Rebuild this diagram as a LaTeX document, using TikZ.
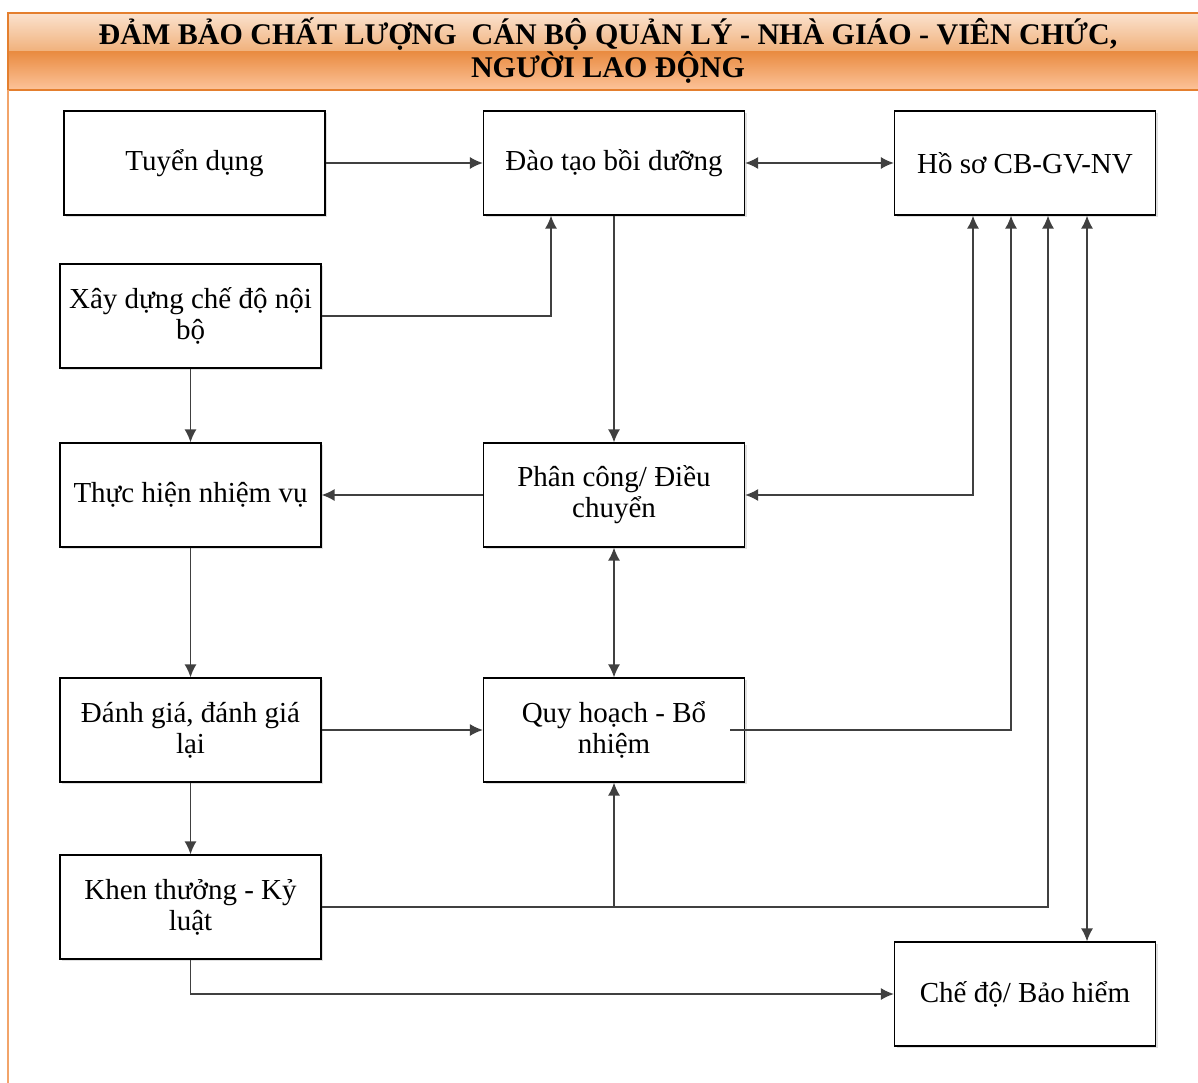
\documentclass[tikz,border=0pt]{standalone}
\usepackage{fontspec}
\setmainfont{Liberation Serif}
\usetikzlibrary{arrows.meta,positioning,calc,shadows}
\definecolor{Wire}{HTML}{404040}
\definecolor{Frame}{HTML}{E47F2E}
\definecolor{PeachTop}{HTML}{FBE2CE}
\definecolor{PeachMid}{HTML}{F0B07A}
\definecolor{OrangeMid}{HTML}{E98C42}
\definecolor{PeachLow}{HTML}{FCC39A}
\definecolor{SideLine}{HTML}{F2A46A}
\tikzset{
 box/.style={draw=black, line width=1.1pt, fill=white, minimum width=261pt, minimum height=104pt, align=center, inner sep=2pt, font=\fontsize{29}{31}\selectfont, drop shadow={shadow xshift=2pt, shadow yshift=-2pt, fill=black!20, opacity=0.6}},
 title/.style={align=center, inner sep=0pt, font=\fontsize{30}{30}\selectfont\bfseries},
 arrow/.style={->, line width=1.7pt, draw=Wire},
 twoway/.style={<->, line width=1.7pt, draw=Wire},
 wire/.style={line width=1.7pt, draw=Wire}
}

\begin{document}
\begin{tikzpicture}[x=1pt, y=-1pt, >={Latex[length=13pt,width=12pt]}]
\useasboundingbox (0,0) rectangle (1198,1083);
% header band
\shade[top color=PeachTop, bottom color=PeachMid] (8,13) rectangle (1198,52);
\shade[top color=OrangeMid, bottom color=PeachLow] (8,52) rectangle (1198,90);
\draw[Frame, line width=1.2pt] (1198,13) -- (8,13) -- (8,90) -- (1198,90);
\draw[SideLine, line width=1.2pt] (8,90) -- (8,1083);
\node[title] (head) at (608,51) {ĐẢM BẢO CHẤT LƯỢNG\ \ CÁN BỘ QUẢN LÝ - NHÀ GIÁO - VIÊN CHỨC,\\NGƯỜI LAO ĐỘNG};

% boxes
\node[box] (tuyendung) at (194.5,163) {Tuyển dụng};
\node[box] (daotao) at (614,163) {Đào tạo bồi dưỡng};
\node[box] (hoso) at (1025,163) {Hồ sơ CB-GV-NV};
\node[box] (xaydung) at (190.5,316) {Xây dựng chế độ nội\\bộ};
\node[box] (thuchien) at (190.5,495) {Thực hiện nhiệm vụ};
\node[box] (phancong) at (614,495) {Phân công/ Điều\\chuyển};
\node[box] (danhgia) at (190.5,730) {Đánh giá, đánh giá\\lại};
\node[box] (quyhoach) at (614,730) {Quy hoạch - Bổ\\nhiệm};
\node[box] (khenthuong) at (190.5,907) {Khen thưởng - Kỷ\\luật};
\node[box] (chedo) at (1025,994) {Chế độ/ Bảo hiểm};

% connectors
\draw[arrow] (tuyendung) -- (daotao);
\draw[twoway] (daotao) -- (hoso);
\draw[arrow] (xaydung.east) -| ([xshift=-63pt]daotao.south);
\draw[arrow] (xaydung) -- (thuchien);
\draw[arrow] (daotao) -- (phancong);
\draw[arrow] (phancong) -- (thuchien);
\draw[twoway] (phancong.east) -| ([xshift=-52pt]hoso.south);
\draw[twoway] (phancong) -- (quyhoach);
\draw[arrow] (thuchien) -- (danhgia);
\draw[arrow] (danhgia) -- (quyhoach);
\draw[arrow] ([xshift=-15pt]quyhoach.east) -| ([xshift=-14pt]hoso.south);
\draw[arrow] (danhgia) -- (khenthuong);
\draw[arrow] (khenthuong.east) -| ([xshift=23pt]hoso.south);
\coordinate (split) at (khenthuong.east -| quyhoach.south);
\draw[arrow] (split) -- (quyhoach.south);
\draw[arrow] (khenthuong.south) |- (chedo.west);
\draw[twoway] ([xshift=62pt]hoso.south) -- ([xshift=62pt]chedo.north);
\end{tikzpicture}
\end{document}
